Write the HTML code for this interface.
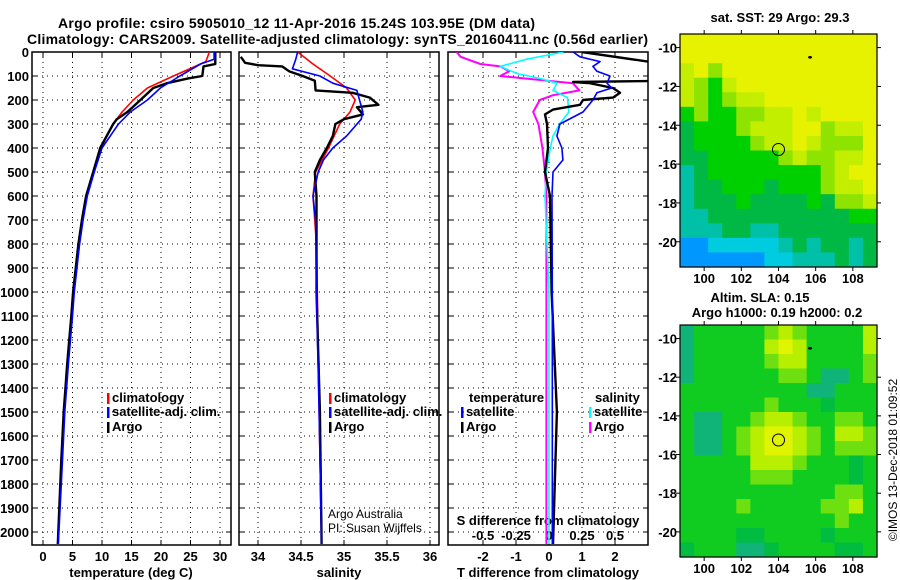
<!DOCTYPE html>
<html><head><meta charset="utf-8"><style>
html,body{margin:0;padding:0;background:#fff;}
svg{display:block;font-family:"Liberation Sans",sans-serif;}
.b{font-weight:bold;font-size:13px;}
</style></head><body>
<svg id="s" width="900" height="580" viewBox="0 0 900 580">
<text class="b" x="58" y="28" textLength="477" style="font-size:14px">Argo profile: csiro 5905010_12 11-Apr-2016 15.24S 103.95E (DM data)</text>
<text class="b" x="27" y="44" textLength="621" style="font-size:14px">Climatology: CARS2009. Satellite-adjusted climatology: synTS_20160411.nc (0.56d earlier)</text>
<g id="g"></g>
</svg>
<script>
// ---- data ----
const argoTDepth=[0,50,60,100,110,130,150,200,250,280,300,400,500,600,700,800,1000,1100,1300,1500,1700,2000,2050];
const argoT=[29.2,29.2,27.2,27.0,24.6,21.0,18.7,16.5,14.3,12.5,11.9,9.7,8.5,7.3,6.6,6.0,5.1,4.8,4.1,3.5,3.1,2.6,2.5];
const climTDepth=[0,40,75,100,150,200,250,300,400,500,600,700,800,1000,1100,1300,1500,1700,2000,2050];
const climT=[28.2,27.6,24.4,22.1,17.7,15.3,13.4,11.9,9.8,8.6,7.4,6.7,6.1,5.2,4.9,4.2,3.6,3.2,2.6,2.5];
const satTDepth=[0,30,50,100,150,200,250,300,400,500,600,700,800,1000,1100,1300,1500,1700,2000,2050];
const satT=[29.0,29.0,26.7,23.2,19.9,17.7,14.8,12.8,10.0,8.7,7.5,6.8,6.2,5.3,5.0,4.3,3.7,3.3,2.7,2.6];
const argoSDepth=[20,45,55,60,80,100,120,160,170,190,220,230,260,280,300,350,400,450,500,600,1000,1500,2050];
const argoS=[33.8,33.85,34.0,34.28,34.36,34.52,34.66,34.67,35.1,35.3,35.4,35.15,35.22,35.0,34.9,34.87,34.8,34.72,34.66,34.68,34.68,34.72,34.74];
const climSDepth=[0,50,100,150,200,250,300,400,500,600,800,1000,1500,2050];
const climS=[34.46,34.64,34.84,35.03,35.13,35.07,34.95,34.82,34.67,34.64,34.68,34.69,34.71,34.74];
const satSDepth=[0,30,50,70,100,130,160,200,250,280,350,400,450,500,600,700,1000,1500,2050];
const satS=[34.46,34.44,34.42,34.4,34.72,34.87,35.15,35.18,35.22,35.2,35.03,34.87,34.76,34.7,34.64,34.67,34.68,34.71,34.74];
const argoDTDepth=[0,40,45,120,125,130,150,170,190,200,220,240,260,300,400,500,600,1000,1500,2050];
const argoDT=[1.0,3.0,3.5,3.5,0.73,1.24,1.94,2.15,1.94,1.03,0.94,0.12,-0.12,-0.06,-0.03,-0.12,0.03,0.08,0.24,0.12];
const satDTDepth=[0,20,40,60,80,100,130,150,170,200,250,300,350,400,450,500,600,1000,1500,2050];
const satDT=[0.73,0.94,1.55,1.33,1.45,1.85,1.76,1.9,1.45,1.33,1.03,0.33,0.24,0.39,0.42,0.12,0.09,0.1,0.1,0.1];
const argoDSDepth=[0,20,50,60,80,100,130,160,180,200,250,300,400,500,600,1000,1300,2050];
const argoDS=[-0.70,-0.67,-0.52,-0.37,-0.30,-0.37,0.18,0.23,0.03,-0.07,-0.12,-0.08,-0.05,-0.03,-0.02,-0.02,-0.02,-0.02];
const satDSDepth=[0,30,60,90,110,130,160,190,250,300,350,400,500,600,1000,2050];
const satDS=[0.11,-0.17,-0.37,-0.24,-0.07,0.06,0.03,0.14,0.15,0.08,0.03,0.01,-0.02,-0.03,0.0,0.0];
const depthTicks=[0,100,200,300,400,500,600,700,800,900,1000,1100,1200,1300,1400,1500,1600,1700,1800,1900,2000];
const tTicks=[0,5,10,15,20,25,30];
const sTicks=[34,34.5,35,35.5,36];
const dtTicks=[-2,-1,0,1,2];
const dsTicks=[-0.5,-0.25,0,0.25,0.5];
const dsTickLabels=["-0.5","-0.25","0","0.25","0.5"];
const lonTicks=[100,102,104,106,108];
const latTicks=[-10,-12,-14,-16,-18,-20];
const sstGrid=["YYYYYYYYYYYYYY","YYYYYYYYYYYYYY","yYlYYYYYYYYYYY","ylgyYYYYYYYYYY","ylglyyYYYYYYYY","glggllyyYyYYYY","GggglyyyYYlyyY","GgggglyyYylllY","GGggggglyllyyY","tGgggggggglyYY","tGGgggGggglyyY","tGGGgGGGGgGlly","ttGGGGGGGGGGgg","tttGGttGGGGGGG","bbccccctGtGGtG","bbbbbbcctttGtG"];
const slaGrid=["tggggglylggggy","tgggggyYyggggy","tggggglyyggggl","tggggggllgttgl","gggggggggttggg","gggggglgggGggg","gttgglyylggllg","gttglyYYylgyyl","gttglyYYylglll","gggggyyylgggGg","ggggglllggggGg","gggggggggggllg","gggglgggggllyg","ggggggggggglgg","ggggGGggggGggg","GgggttGggggGGg"];
const argoLon=104, argoLat=-15.25;

// ---- helpers ----
const NS="http://www.w3.org/2000/svg";
const G=document.getElementById('g');
function el(t,a,p){const e=document.createElementNS(NS,t);for(const k in a)e.setAttribute(k,a[k]);(p||G).appendChild(e);return e;}
const yD=d=>52+d*0.24;
const xT=v=>43+5.9*v;
const xS=v=>258+86*(v-34);
const xDT=v=>549+33*v;
const xDS=v=>549+132*v;
const panels=[[32,231],[239,439],[448,648]];
const PT=52,PB=545;

// clip paths
panels.forEach((p,i)=>{const c=el('clipPath',{id:'cp'+i});el('rect',{x:p[0],y:PT,width:p[1]-p[0],height:PB-PT},c);});

// grids & frames
panels.forEach((p,i)=>{
  depthTicks.forEach(d=>{
    const gl=el('line',{x1:p[0],x2:p[1],y1:yD(d),y2:yD(d),stroke:'#000','stroke-width':1,'stroke-dasharray':'1,4'});
    
    
    el('line',{x1:p[0],x2:p[0]+5,y1:yD(d),y2:yD(d),stroke:'#000'});
    el('line',{x1:p[1]-5,x2:p[1],y1:yD(d),y2:yD(d),stroke:'#000'});
  });
});
function vgrid(i,ticks,fx){ticks.forEach(v=>{const x=fx(v);
  const gl=el('line',{x1:x,x2:x,y1:PT,y2:PB,stroke:'#000','stroke-width':1,'stroke-dasharray':'1,4'});
  
  
  el('line',{x1:x,x2:x,y1:PT,y2:PT+5,stroke:'#000'});el('line',{x1:x,x2:x,y1:PB-5,y2:PB,stroke:'#000'});});}
vgrid(0,tTicks,xT);vgrid(1,sTicks,xS);vgrid(2,dsTicks,xDS);
panels.forEach((p,i)=>{const r=el('rect',{x:p[0],y:PT,width:p[1]-p[0],height:PB-PT,fill:'none',stroke:'#000','stroke-width':1.5});
  
  });

// labels
function txt(x,y,s,o){const t=el('text',Object.assign({x:x,y:y,'font-size':13,'font-weight':'bold'},o||{}));t.textContent=s;return t;}
depthTicks.forEach(d=>{const t=txt(29,yD(d)+5,String(d),{'text-anchor':'end'});
  
  });
tTicks.forEach(v=>{const t=txt(xT(v),561,String(v),{'text-anchor':'middle'});
  
  });
sTicks.forEach(v=>{const t=txt(xS(v),561,String(v),{'text-anchor':'middle'});
  
  });
dtTicks.forEach(v=>{const t=txt(xDT(v),561,String(v),{'text-anchor':'middle'});
  
  });
dsTicks.forEach((v,i)=>{const t=txt(xDS(v),540,dsTickLabels[i],{'text-anchor':'middle'});
  
  });
let t;
t=txt(131,577,'temperature (deg C)',{'text-anchor':'middle'});
t=txt(339,577,'salinity',{'text-anchor':'middle'});
t=txt(548,577,'T difference from climatology',{'text-anchor':'middle'});
t=txt(548,525,'S difference from climatology',{'text-anchor':'middle'});
t=txt(328,518,'Argo Australia',{'font-weight':'normal','font-size':12});
t=txt(328,532,'PI: Susan Wijffels',{'font-weight':'normal','font-size':12});

// series
function line(depths,vals,fx,col,w,ci,name){
  const pts=depths.map((d,i)=>fx(vals[i]).toFixed(1)+','+yD(d).toFixed(1)).join(' ');
  const l=el('polyline',{points:pts,fill:'none',stroke:col,'stroke-width':w,'clip-path':'url(#cp'+ci+')','stroke-linejoin':'round'});
  
  
}
line(climTDepth,climT,xT,'#f00',1.6,0,'climatology-temperature-line');
line(argoTDepth,argoT,xT,'#000',2.4,0,'argo-temperature-line');
line(satTDepth,satT,xT,'#00f',1.6,0,'satellite-temperature-line');
line(climSDepth,climS,xS,'#f00',1.6,1,'climatology-salinity-line');
line(argoSDepth,argoS,xS,'#000',2.4,1,'argo-salinity-line');
line(satSDepth,satS,xS,'#00f',1.6,1,'satellite-salinity-line');
line(argoDSDepth,argoDS,xDS,'#f0f',2,2,'argo-s-diff-line');
line(satDSDepth,satDS,xDS,'#0ff',1.6,2,'satellite-s-diff-line');
line(argoDTDepth,argoDT,xDT,'#000',2.4,2,'argo-t-diff-line');
line(satDTDepth,satDT,xDT,'#00f',1.6,2,'satellite-t-diff-line');

// legends
function leg(x,y,col,s,name){el('rect',{x:x,y:y-9,width:2.5,height:11,fill:col});
  const tt=txt(x+5,y,s);}
leg(107,402,'#f00','climatology','legend-climatology');
leg(107,416,'#00f','satellite-adj. clim.','legend-satellite');
leg(107,431,'#000','Argo','legend-argo');
leg(329,402,'#f00','climatology','legend2-climatology');
leg(329,416,'#00f','satellite-adj. clim.','legend2-satellite');
leg(329,431,'#000','Argo','legend2-argo');
t=txt(469,402,'temperature');
t=txt(595,402,'salinity');
leg(461,416,'#00f','satellite','legend-t-satellite');
leg(461,431,'#000','Argo','legend-t-argo');
leg(589,416,'#0ff','satellite','legend-s-satellite');
leg(589,431,'#f0f','Argo','legend-s-argo');

// maps
const pal1={Y:'#e6f200',y:'#c4ee00',l:'#8ee400',g:'#00d000',G:'#00b844',t:'#00c0a8',c:'#00cce0',b:'#0098ff'};
const pal2={Y:'#e0f400',y:'#b8ee00',l:'#6ee010',g:'#10cc20',G:'#00bc40',t:'#10b478'};
function map(x0,y0,w,h,grid,pal,latTop,latBot,name){
  const lonL=98.7,lonR=109.3;
  const mx=v=>x0+(v-lonL)/(lonR-lonL)*w;
  const my=v=>y0+(latTop-v)/(latTop-latBot)*h;
  const rows=grid.length,cols=grid[0].length,cw=w/cols,ch=h/rows;
  grid.forEach((r,ri)=>{for(let ci=0;ci<cols;ci++){
    el('rect',{x:(x0+ci*cw).toFixed(2),y:(y0+ri*ch).toFixed(2),width:(cw+0.6).toFixed(2),height:(ch+0.6).toFixed(2),fill:pal[r[ci]]||pal.g});}});
  const fr=el('rect',{x:x0,y:y0,width:w,height:h,fill:'none',stroke:'#000','stroke-width':1.2});
  
  
  lonTicks.forEach(v=>{el('line',{x1:mx(v),x2:mx(v),y1:y0+h,y2:y0+h+4,stroke:'#000'});el('line',{x1:mx(v),x2:mx(v),y1:y0-4,y2:y0,stroke:'#000'});
    const tt=txt(mx(v),y0+h+16,String(v),{'text-anchor':'middle'});
    
    });
  latTicks.forEach(v=>{el('line',{x1:x0-4,x2:x0,y1:my(v),y2:my(v),stroke:'#000'});el('line',{x1:x0+w,x2:x0+w+4,y1:my(v),y2:my(v),stroke:'#000'});
    const tt=txt(x0-3,my(v)+5,String(v),{'text-anchor':'end'});
    
    });
  const c=el('circle',{cx:mx(argoLon),cy:my(argoLat),r:6,fill:'none',stroke:'#000','stroke-width':1});
  
  
  el('ellipse',{cx:mx(105.7),cy:my(-10.5),rx:2,ry:1.3,fill:'#000'});
}
map(680,34,197,233,sstGrid,pal1,-9.3,-21.3,'sst-map');
map(680,325,197,232,slaGrid,pal2,-9.3,-21.3,'sla-map');
t=txt(780,22,'sat. SST: 29 Argo: 29.3',{'text-anchor':'middle'});
t=txt(760,302,'Altim. SLA: 0.15',{'text-anchor':'middle'});
t=txt(777,317,'Argo h1000: 0.19 h2000: 0.2',{'text-anchor':'middle'});
t=txt(0,0,'©IMOS 13-Dec-2018 01:09:52',{'text-anchor':'middle','font-weight':'normal','font-size':12,transform:'translate(897,460) rotate(-90)'});

</script>
</body></html>
